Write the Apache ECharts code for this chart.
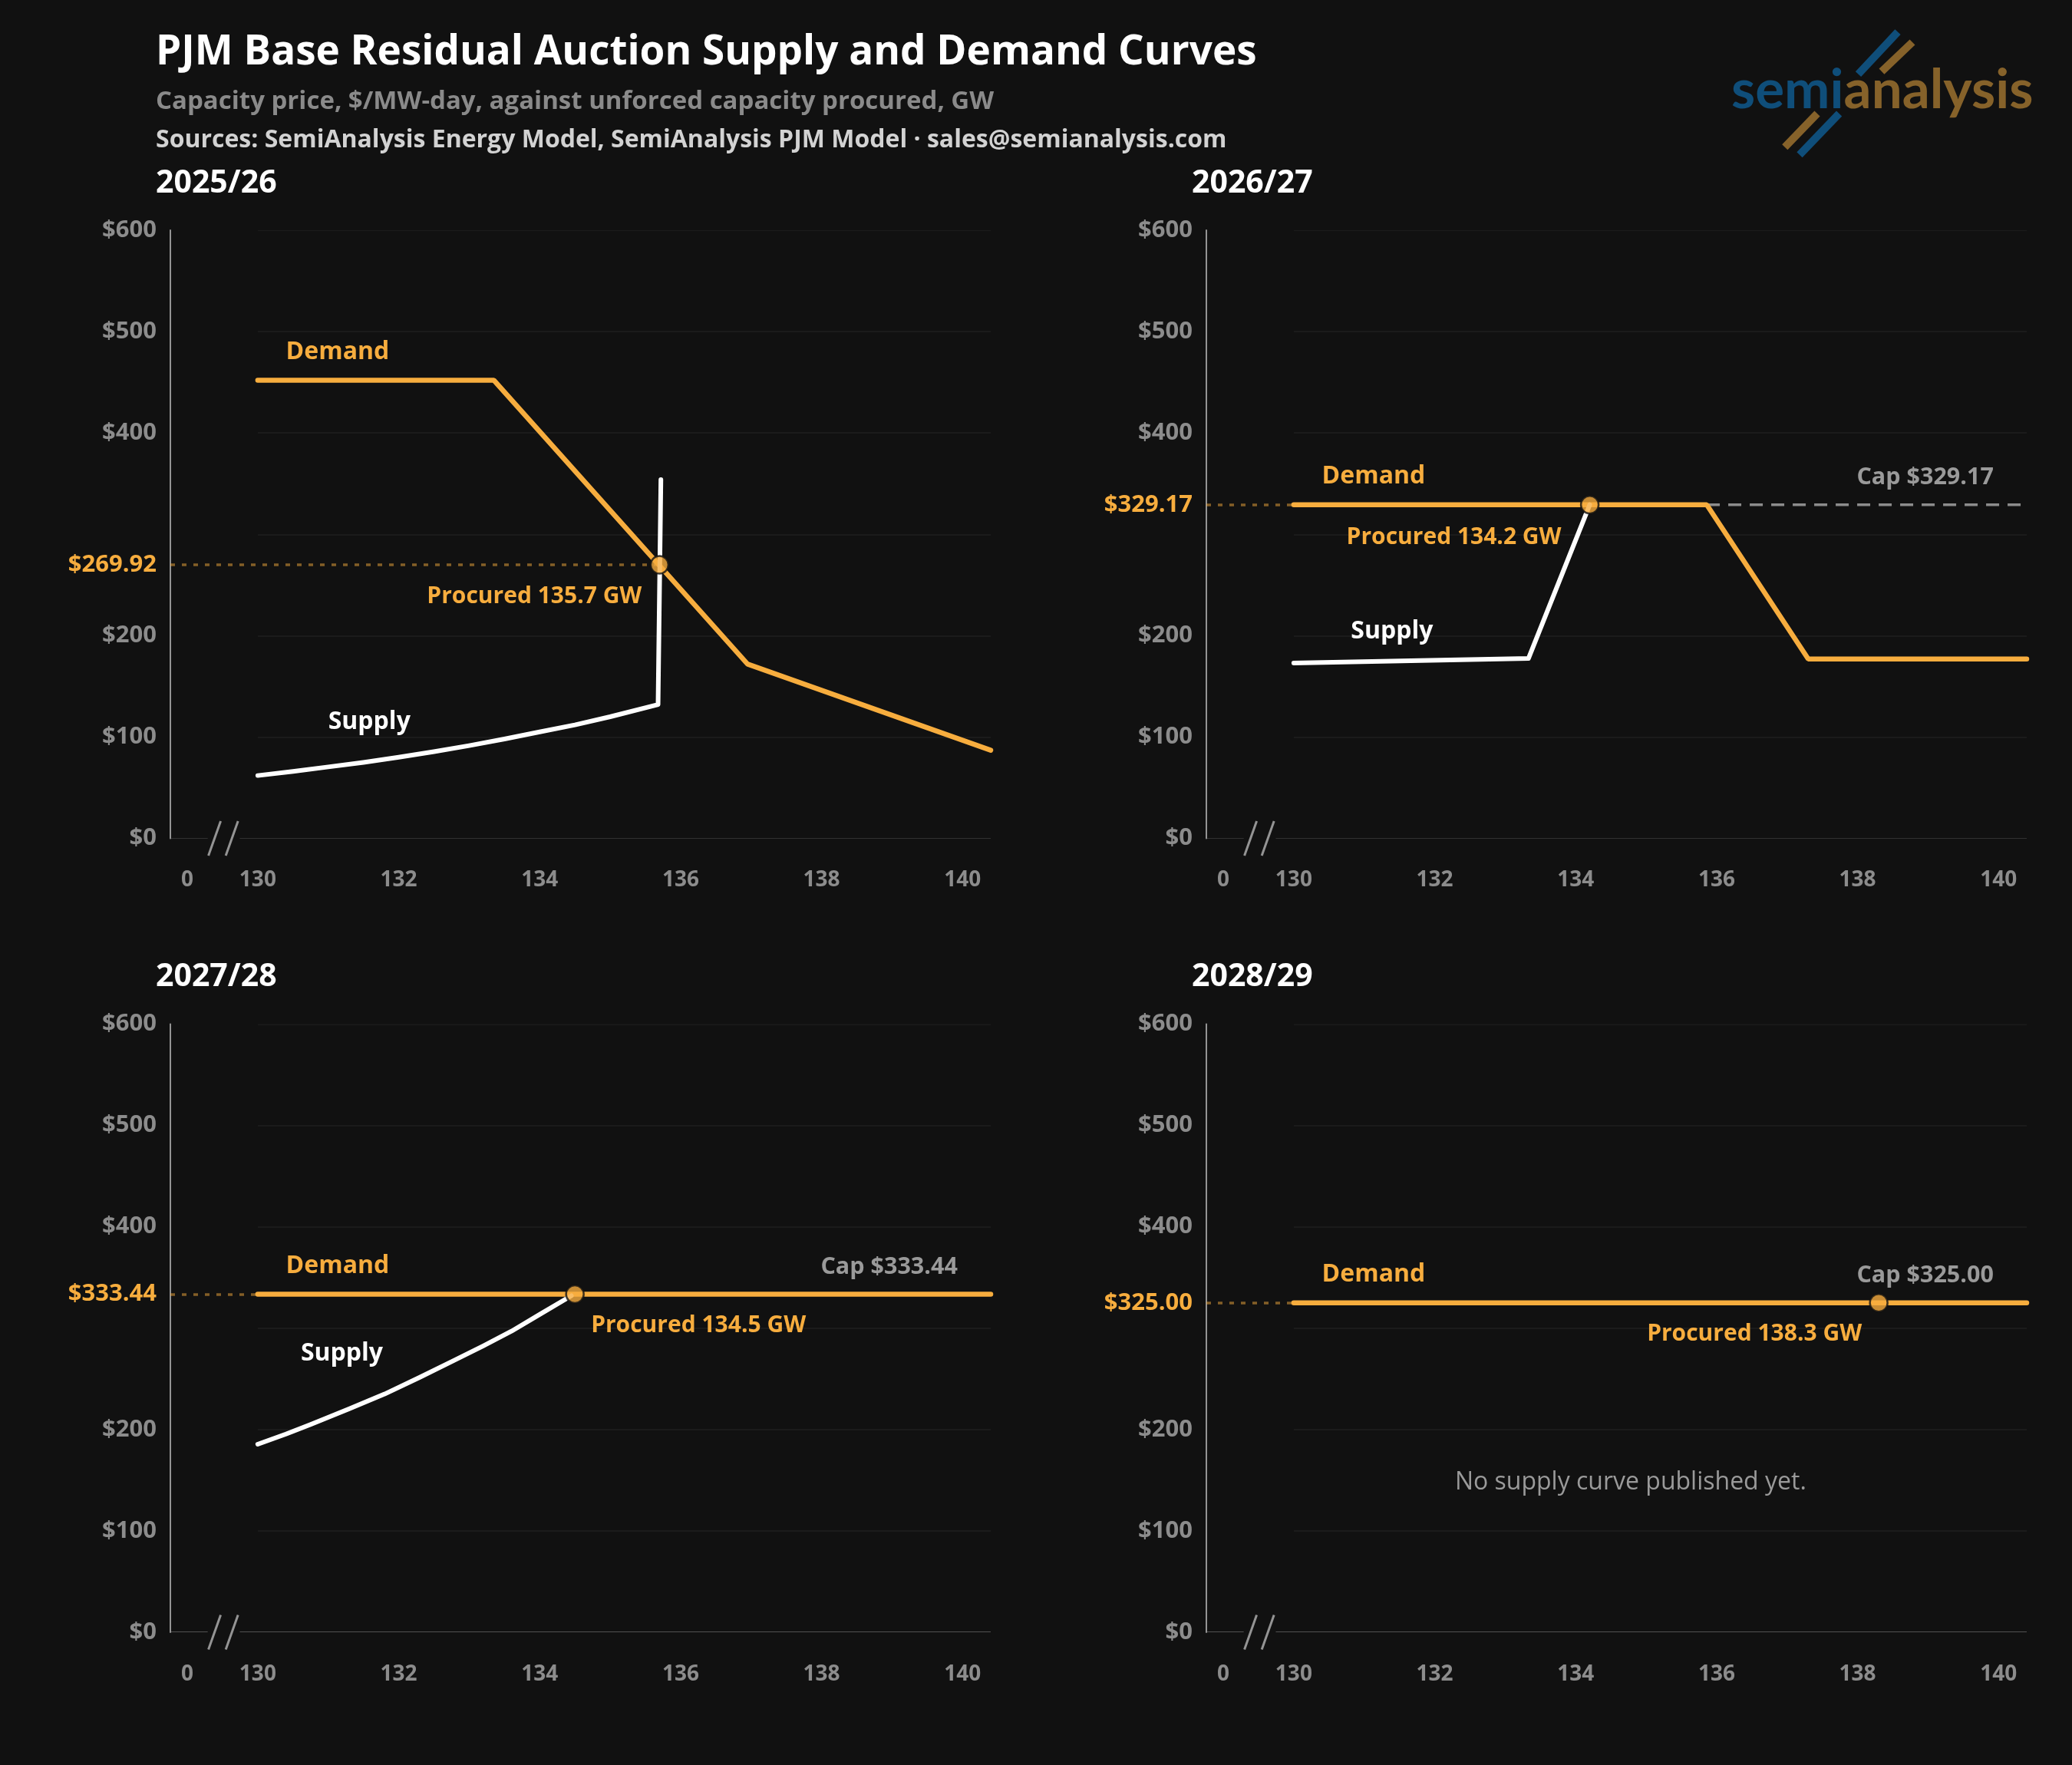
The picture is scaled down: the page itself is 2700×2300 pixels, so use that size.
<!DOCTYPE html>
<html>
<head>
<meta charset="utf-8">
<title>PJM Base Residual Auction Supply and Demand Curves</title>
<script src="https://cdn.jsdelivr.net/npm/echarts@6/dist/echarts.min.js"></script>
<style>
html, body { margin: 0; padding: 0; background: #111111; }
#main { width: 2700px; height: 2300px; }
</style>
</head>
<body>
<div id="main"></div>
<script>
// auction years, one panel each
var panelTitles = ['2025/26', '2026/27', '2027/28', '2028/29'];

// demand (VRR) curves, [GW, $/MW-day]
var demand2526 = [[130, 452], [133.35, 452], [136.95, 172], [140.4, 87]];
var demand2627 = [[130, 329.17], [135.86, 329.17], [137.3, 177], [140.4, 177]];
var demand2728 = [[130, 333.44], [140.4, 333.44]];
var demand2829 = [[130, 325], [140.4, 325]];

// supply curves
var supply2526 = [[130, 62], [130.5, 66], [131, 70.5], [131.5, 75], [132, 80], [132.5, 85.5], [133, 91.5],
    [133.5, 98], [134, 105], [134.5, 112], [135, 120], [135.68, 132], [135.72, 354]];
var supply2627 = [[130, 173], [133.33, 177.5], [134.2, 329.17]];
var supply2728 = [[130, 185.5], [130.4, 195.5], [130.75, 205], [131.3, 220.5], [131.8, 235], [132.3, 251.5],
    [132.75, 267], [133.2, 282.5], [133.6, 297], [134, 313.5], [134.45, 332]];
var supply2829 = [];

// price cap (dashed where the demand curve drops below it)
var cap2627 = [[135.86, 329.17], [140.4, 329.17]];
var capPrices = [null, 329.17, 333.44, 325.00];

// clearing point: [procured GW, price]
var clearing = [[135.7, 269.92], [134.2, 329.17], [134.5, 333.44], [138.3, 325.00]];

// axes
var xMin = 128.76, xMax = 140.4;
var xTicks = [130, 132, 134, 136, 138, 140];
var xZeroAt = 129;          // where the "0" sits, left of the axis break
var breakAt = 129.51;
var yTicks = [0, 100, 200, 400, 500, 600];
var yGrid = [100, 200, 300, 400, 500, 600];

var noSupplyText = 'No supply curve published yet.';

// ---- look ----
var ORANGE = '#f7ad3e', WHITE = '#ffffff', GREY = '#8c8c8c', AXIS = '#949494', GRID = '#262626';
var FONT = 'Open Sans';
var gridPos = [[222, 300], [1572, 300], [222, 1334.5], [1572, 1334.5]];
var gridW = 1069, gridH = 792.5;

// annotation anchors (data coords) and pixel nudges
var notes = [
    {demandX: 130.4, supply: [131.0, 115], proc: [-23, 41, 'right']},
    {demandX: 130.4, supply: [130.81, 204], proc: [-37, 43, 'right']},
    {demandX: 130.4, supply: [130.61, 275], proc: [21, 41, 'left']},
    {demandX: 130.4, supply: null, proc: [-22, 41, 'right'], empty: [134.78, 148]}
];
var capLabelX = 139.93;

var demands = [demand2526, demand2627, demand2728, demand2829];
var supplies = [supply2526, supply2627, supply2728, supply2829];
var caps = [[], cap2627, [], []];

function money(v) {
    return '$' + v.toFixed(2);
}

var chart = echarts.init(document.getElementById('main'), null, {renderer: 'canvas'});

var option = {
    backgroundColor: '#111111',
    animation: false,
    textStyle: {fontFamily: FONT},
    title: [
        {text: 'PJM Base Residual Auction Supply and Demand Curves', left: 203, top: 41, padding: 0,
            textStyle: {color: WHITE, fontSize: 53, fontWeight: 'bold', fontFamily: FONT, lineHeight: 56}},
        {text: 'Capacity price, $/MW-day, against unforced capacity procured, GW', left: 203, top: 116, padding: 0,
            textStyle: {color: '#8a8a8a', fontSize: 33, fontWeight: 'bold', fontFamily: FONT, lineHeight: 34}},
        {text: 'Sources: SemiAnalysis Energy Model, SemiAnalysis PJM Model \u00b7 sales@semianalysis.com', left: 203, top: 166, padding: 0,
            textStyle: {color: '#d2d2d2', fontSize: 32, fontWeight: 'bold', fontFamily: FONT, lineHeight: 34}}
    ],
    grid: [],
    xAxis: [],
    yAxis: [],
    series: [],
    graphic: [
        // logo
        {type: 'group', children: [
            {type: 'line', shape: {x1: 2421.5, y1: 96.7, x2: 2473, y2: 41.7}, style: {stroke: '#0f4e7a', lineWidth: 10}},
            {type: 'line', shape: {x1: 2452, y1: 93, x2: 2492, y2: 55}, style: {stroke: '#86622a', lineWidth: 10}},
            {type: 'line', shape: {x1: 2325.8, y1: 191.7, x2: 2368, y2: 148}, style: {stroke: '#86622a', lineWidth: 10}},
            {type: 'line', shape: {x1: 2345, y1: 201.7, x2: 2396.6, y2: 148}, style: {stroke: '#0f4e7a', lineWidth: 10}},
            {type: 'text', x: 2256, y: 118, style: {
                text: '{b|semi}{g|analysis}', verticalAlign: 'middle',
                fontSize: 71, fontWeight: 'bold', fontFamily: 'Lato',
                rich: {
                    b: {fill: '#0f4e7a', fontSize: 71, fontWeight: 'bold', fontFamily: 'Lato'},
                    g: {fill: '#86622a', fontSize: 71, fontWeight: 'bold', fontFamily: 'Lato'}
                }
            }}
        ]}
    ]
};

for (var i = 0; i < 4; i++) {
    (function (i) {
        var price = clearing[i][1];
        var note = notes[i];

        option.title.push({
            text: panelTitles[i], left: gridPos[i][0] - 19, top: gridPos[i][1] - 82, padding: 0,
            textStyle: {color: WHITE, fontSize: 41, fontWeight: 'bold', fontFamily: FONT, lineHeight: 42}
        });

        option.grid.push({left: gridPos[i][0], top: gridPos[i][1], width: gridW, height: gridH});

        option.xAxis.push({
            type: 'value', gridIndex: i, min: xMin, max: xMax,
            axisLine: {show: false}, axisTick: {show: false}, splitLine: {show: false},
            axisLabel: {
                customValues: [xZeroAt].concat(xTicks),
                formatter: function (v) { return v < xTicks[0] ? '0' : String(v); },
                color: GREY, fontSize: 28, fontWeight: 'bold', fontFamily: FONT, margin: 41
            }
        });

        option.yAxis.push({
            type: 'value', gridIndex: i, min: 0, max: 600,
            axisLine: {show: true, lineStyle: {color: AXIS, width: 2}},
            axisTick: {show: false}, splitLine: {show: false},
            axisLabel: {
                customValues: yTicks.concat([price]),
                formatter: function (v) { return Math.abs(v - price) < 1e-6 ? money(price) : '$' + v; },
                color: function (v) { return Math.abs(parseFloat(v) - price) < 1e-6 ? ORANGE : GREY; },
                fontSize: 31, fontWeight: 'bold', fontFamily: FONT, margin: 18
            }
        });

        // gridlines, broken baseline and the dotted price guide
        var segs = yGrid.map(function (v) {
            return {coords: [[xTicks[0], v], [xMax, v]], lineStyle: {color: GRID, width: 2}};
        });
        segs.push({coords: [[xMin, 0], [129.29, 0]], lineStyle: {color: AXIS, width: 2}});
        segs.push({coords: [[129.745, 0], [xMax, 0]], lineStyle: {color: AXIS, width: 2}});
        segs.push({coords: [[xMin, price], clearing[i]], lineStyle: {color: ORANGE, width: 3.5, type: [6, 9]}});
        option.series.push({
            type: 'lines', coordinateSystem: 'cartesian2d', xAxisIndex: i, yAxisIndex: i,
            polyline: false, silent: true, z: 1, data: segs
        });

        // axis break marks "//"
        option.series.push({
            type: 'custom', xAxisIndex: i, yAxisIndex: i, silent: true, z: 2,
            data: [[breakAt, 0]],
            renderItem: function (params, api) {
                var p = api.coord([api.value(0), api.value(1)]);
                var mk = function (cx) {
                    return {type: 'line', shape: {x1: cx - 8, y1: p[1] + 22.5, x2: cx + 8, y2: p[1] - 22.5},
                        style: {stroke: AXIS, lineWidth: 3}};
                };
                return {type: 'group', children: [mk(p[0] - 11.3), mk(p[0] + 11.3)]};
            }
        });

        if (caps[i].length) {
            option.series.push({
                type: 'line', xAxisIndex: i, yAxisIndex: i, data: caps[i], showSymbol: false, silent: true, z: 2,
                lineStyle: {color: GREY, width: 3.5, type: [17, 11]}
            });
        }

        option.series.push({
            name: 'Demand', type: 'line', xAxisIndex: i, yAxisIndex: i, data: demands[i],
            showSymbol: false, silent: true, z: 3,
            lineStyle: {color: ORANGE, width: 6.5, cap: 'round'}
        });

        if (supplies[i].length) {
            option.series.push({
                name: 'Supply', type: 'line', xAxisIndex: i, yAxisIndex: i, data: supplies[i],
                showSymbol: false, silent: true, z: 4,
                lineStyle: {color: WHITE, width: 6, cap: 'round', join: 'round'}
            });
        }

        option.series.push({
            type: 'scatter', xAxisIndex: i, yAxisIndex: i, data: [clearing[i]], silent: true, z: 5,
            symbol: 'circle', symbolSize: 23,
            itemStyle: {color: ORANGE, borderColor: '#111111', borderWidth: 2.5}
        });

        // text annotations
        var texts = [
            {pos: [note.demandX, demands[i][0][1]], text: 'Demand', fill: ORANGE, dx: 0, dy: -37, align: 'left', size: 32},
            {pos: clearing[i], text: 'Procured ' + clearing[i][0].toFixed(1) + ' GW', fill: ORANGE,
                dx: note.proc[0], dy: note.proc[1], align: note.proc[2]}
        ];
        if (note.supply) {
            texts.push({pos: note.supply, text: 'Supply', fill: WHITE, dx: 0, dy: 0, align: 'left', size: 32});
        }
        if (capPrices[i] !== null) {
            texts.push({pos: [capLabelX, capPrices[i]], text: 'Cap ' + money(capPrices[i]), fill: '#9a9a9a',
                dx: 0, dy: -35, align: 'right', size: 30.5});
        }
        if (note.empty) {
            texts.push({pos: note.empty, text: noSupplyText, fill: '#9a9a9a', dx: 0, dy: 0, align: 'center', weight: 'normal', size: 32});
        }
        option.series.push({
            type: 'custom', xAxisIndex: i, yAxisIndex: i, silent: true, z: 6,
            data: texts.map(function (t) { return t.pos; }),
            renderItem: function (params, api) {
                var t = texts[params.dataIndex];
                var p = api.coord([api.value(0), api.value(1)]);
                return {
                    type: 'text', x: p[0] + t.dx, y: p[1] + t.dy,
                    style: {
                        text: t.text, fill: t.fill, align: t.align, verticalAlign: 'middle',
                        fontSize: t.size || 30, fontWeight: t.weight || 'bold', fontFamily: FONT
                    }
                };
            }
        });
    })(i);
}

chart.setOption(option);
</script>
</body>
</html>
